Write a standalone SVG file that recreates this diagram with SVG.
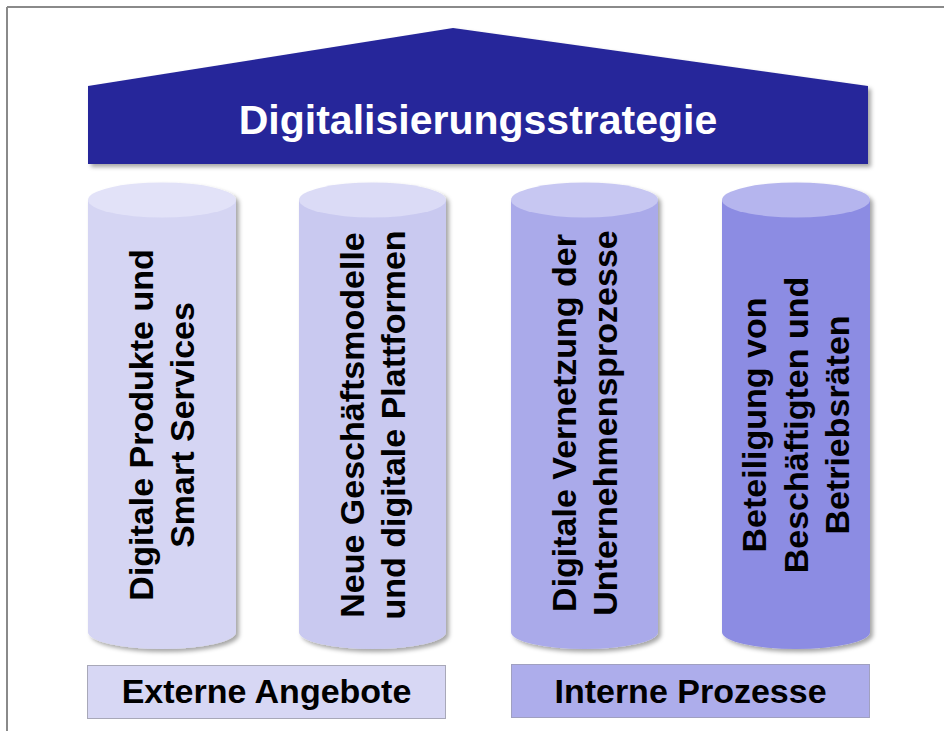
<svg xmlns="http://www.w3.org/2000/svg" width="944" height="731" viewBox="0 0 944 731">
  <defs>
    <filter id="sh" x="-10%" y="-10%" width="130%" height="130%">
      <feDropShadow dx="3" dy="3" stdDeviation="2" flood-color="#000" flood-opacity="0.35"/>
    </filter>
    <style>
      .t { font-family: "Liberation Sans", Arial, sans-serif; font-weight: bold; fill: #000; }
      .title { font-family: "Liberation Sans", Arial, sans-serif; font-weight: bold; fill: #fff; font-size: 41px; }
      .ct { font-size: 34px; }
      .lbl { font-size: 34px; }
    </style>
  </defs>
  <rect x="0" y="0" width="944" height="731" fill="#fff"/>
  <g id="frame">
    <line x1="7" y1="7" x2="944" y2="7" stroke="#8a8a8a" stroke-width="2"/>
    <line x1="7" y1="7" x2="7" y2="731" stroke="#8a8a8a" stroke-width="2"/>
  </g>

  <g id="roof">
    <polygon points="88,86 453,28 868,86 868,164 88,164" fill="#27279a" filter="url(#sh)"/>
    <text class="title" x="478" y="134" text-anchor="middle">Digitalisierungsstrategie</text>
  </g>

  <g id="pillar1">
    <g filter="url(#sh)">
      <path d="M88,200 V632 A74,17 0 0 0 236,632 V200 Z" fill="#d5d5f3"/>
      <ellipse cx="162" cy="200" rx="74" ry="17.5" fill="#e2e2f8"/>
    </g>
    <text class="t ct" transform="translate(162,425) rotate(-90)" text-anchor="middle"><tspan x="0" y="-9">Digitale Produkte und</tspan><tspan x="0" y="32">Smart Services</tspan></text>
  </g>

  <g id="pillar2">
    <g filter="url(#sh)">
      <path d="M299,200 V632 A73.5,17 0 0 0 446,632 V200 Z" fill="#c9c9f0"/>
      <ellipse cx="372.5" cy="200" rx="73.5" ry="17.5" fill="#dbdbf6"/>
    </g>
    <text class="t ct" transform="translate(372.5,425) rotate(-90)" text-anchor="middle"><tspan x="0" y="-9">Neue Geschäftsmodelle</tspan><tspan x="0" y="32">und digitale Plattformen</tspan></text>
  </g>

  <g id="pillar3">
    <g filter="url(#sh)">
      <path d="M511,200 V632 A73.5,17 0 0 0 658,632 V200 Z" fill="#aaaaea"/>
      <ellipse cx="584.5" cy="200" rx="73.5" ry="17.5" fill="#c7c7f2"/>
    </g>
    <text class="t ct" transform="translate(584.5,423) rotate(-90)" text-anchor="middle"><tspan x="0" y="-9">Digitale Vernetzung der</tspan><tspan x="0" y="32">Unternehmensprozesse</tspan></text>
  </g>

  <g id="pillar4">
    <g filter="url(#sh)">
      <path d="M722,200 V632 A74,17 0 0 0 870,632 V200 Z" fill="#8c8ce3"/>
      <ellipse cx="796" cy="200" rx="74" ry="17.5" fill="#b5b5ee"/>
    </g>
    <text class="t ct" transform="translate(796,425) rotate(-90)" text-anchor="middle"><tspan x="0" y="-30">Beteiligung von</tspan><tspan x="0" y="11.5">Beschäftigten und</tspan><tspan x="0" y="53">Betriebsräten</tspan></text>
  </g>

  <g id="label-extern">
    <rect x="87.5" y="665.5" width="358" height="53" fill="#d7d7f4" stroke="#a8a8b8" stroke-width="1"/>
    <text class="t lbl" x="266.5" y="703" text-anchor="middle">Externe Angebote</text>
  </g>

  <g id="label-intern">
    <rect x="511.5" y="664.5" width="358" height="53" fill="#adadeb" stroke="#a0a0c0" stroke-width="1"/>
    <text class="t lbl" x="690.5" y="703" text-anchor="middle">Interne Prozesse</text>
  </g>
</svg>
